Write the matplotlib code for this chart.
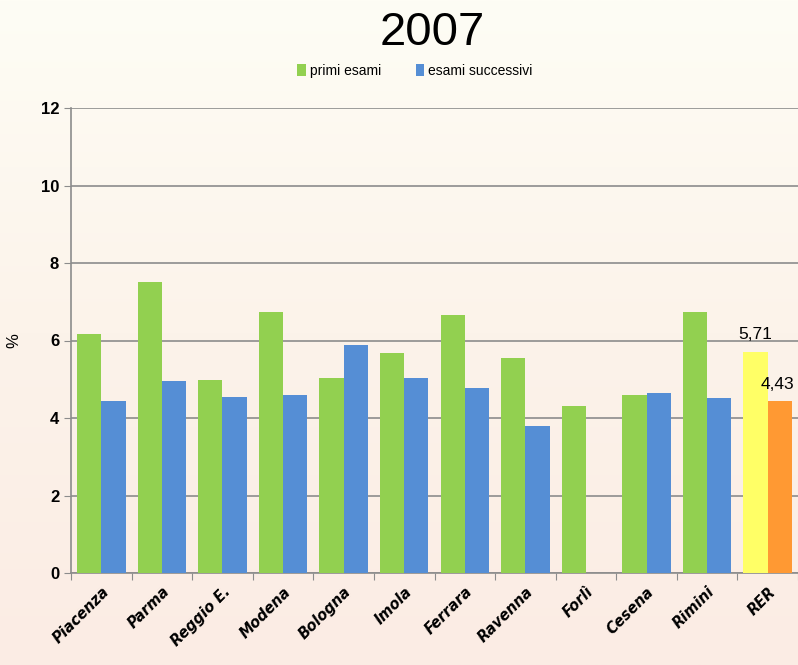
import matplotlib.pyplot as plt
import numpy as np
from matplotlib.colors import LinearSegmentedColormap

# dati
categorie = ['Piacenza', 'Parma', 'Reggio E.', 'Modena', 'Bologna', 'Imola',
             'Ferrara', 'Ravenna', 'Forlì', 'Cesena', 'Rimini', 'RER']
primi = [6.17, 7.51, 4.98, 6.74, 5.03, 5.68, 6.66, 5.55, 4.31, 4.59, 6.74, 5.71]
successivi = [4.44, 4.95, 4.54, 4.59, 5.88, 5.03, 4.77, 3.79, np.nan, 4.65, 4.52, 4.43]
yticks = [0, 2, 4, 6, 8, 10, 12]

col_primi = ['#92d050'] * 11 + ['#ffff66']
col_succ = ['#558ed5'] * 11 + ['#ff9933']

fig = plt.figure(figsize=(7.98, 6.65), dpi=100)

# sfondo sfumato
bg = fig.add_axes([0, 0, 1, 1], zorder=-10)
grad = np.linspace(0, 1, 256).reshape(-1, 1)
cmap = LinearSegmentedColormap.from_list('bg', ['#fefdf5', '#fcf3ea', '#fbece4'])
bg.imshow(grad, aspect='auto', cmap=cmap, extent=[0, 1, 0, 1])
bg.axis('off')

ax = fig.add_axes([71 / 798, 1 - 573 / 665, 727 / 798, (573 - 108) / 665])
ax.patch.set_alpha(0)

x = np.arange(len(categorie))
w = 0.4
ax.bar(x - w / 2, primi, w, color=col_primi, label='primi esami', zorder=3)
ax.bar(x + w / 2, successivi, w, color=col_succ, label='esami successivi', zorder=3)

# etichette RER
ax.text(x[-1] - w / 2, primi[-1] + 0.25, f'{primi[-1]:.2f}'.replace('.', ','),
        ha='center', va='bottom', fontsize=12.5, family='Liberation Sans')
ax.text(x[-1] + w / 2 - 0.04, successivi[-1] + 0.25, f'{successivi[-1]:.2f}'.replace('.', ','),
        ha='center', va='bottom', fontsize=12.5, family='Liberation Sans')

ax.set_xlim(-0.5, len(categorie) - 0.5)
ax.set_ylim(0, 12)
ax.set_yticks(yticks)
ax.set_yticklabels([str(v) for v in yticks], fontsize=12, fontweight='bold',
                   family='Liberation Sans')
ax.yaxis.grid(True, color='#8c8c8c', linewidth=1.2, zorder=0)
ax.set_axisbelow(True)

ax.set_xticks(np.arange(len(categorie) + 1) - 0.5)
ax.set_xticklabels([])
ax.set_xticks(x, minor=True)
ax.set_xticklabels(categorie, minor=True, rotation=45, ha='right',
                   rotation_mode='anchor', fontsize=10.5, fontweight='bold',
                   fontstyle='italic', family='DejaVu Sans')
ax.tick_params(axis='x', which='minor', length=0, pad=8)
ax.tick_params(axis='x', which='major', length=5, color='#8c8c8c')
ax.tick_params(axis='y', length=5, color='#8c8c8c')

for s in ['top', 'right']:
    ax.spines[s].set_visible(False)
for s in ['left', 'bottom']:
    ax.spines[s].set_color('#8c8c8c')
    ax.spines[s].set_linewidth(1.2)

ax.set_ylabel('%', fontsize=12, family='Liberation Sans', labelpad=14)

fig.text(432 / 798, 1 - 33 / 665, '2007', ha='center', va='center',
         fontsize=34, family='Liberation Sans')
ax.legend(loc='center', bbox_to_anchor=(415 / 798, 1 - 71 / 665),
          bbox_transform=fig.transFigure, ncol=2, frameon=False,
          prop={'family': 'Liberation Sans', 'size': 10},
          handlelength=0.6, handleheight=0.9, handletextpad=0.3, columnspacing=2.5)

plt.savefig('out.png', dpi=100)
